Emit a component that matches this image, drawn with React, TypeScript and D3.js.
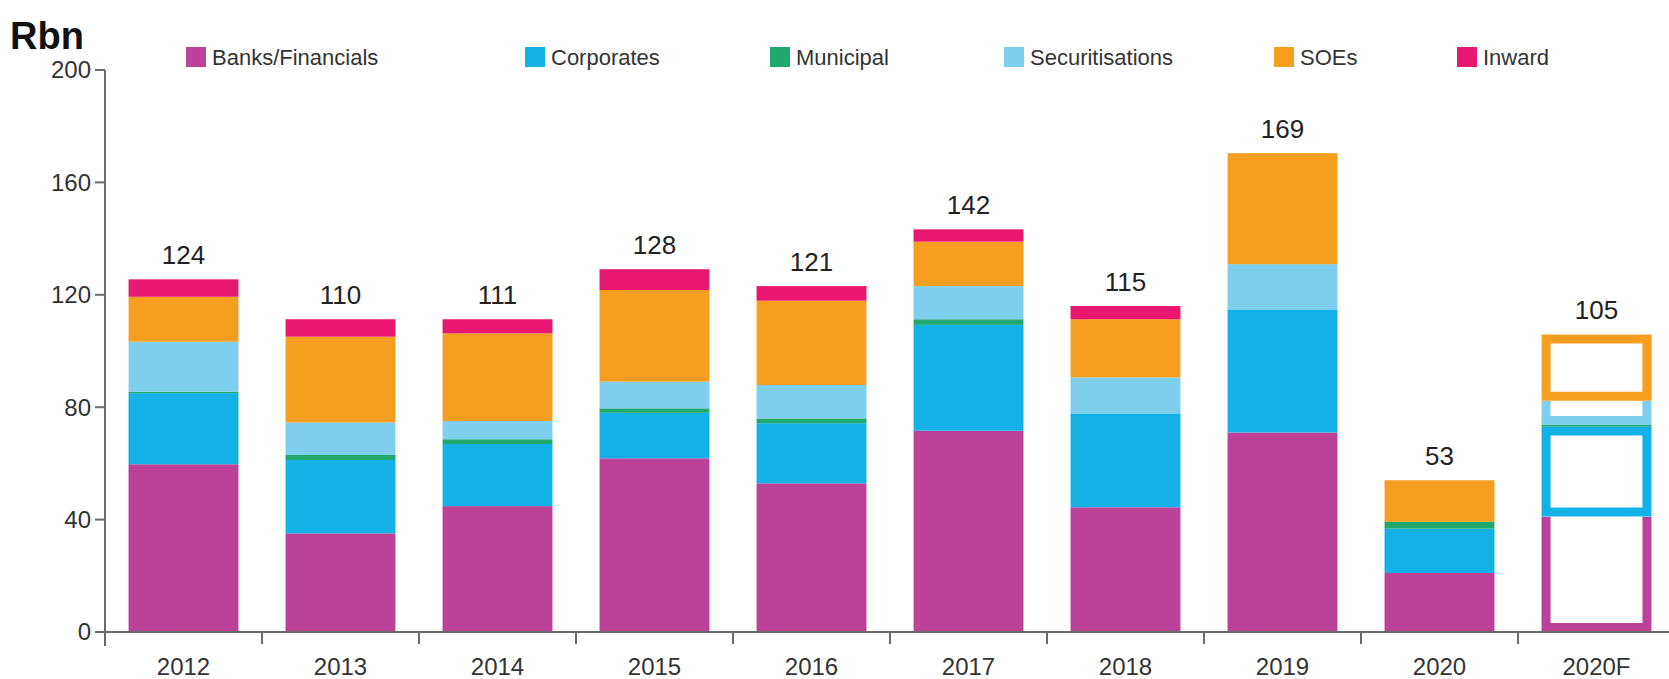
import React from "react";
import * as d3 from "d3";

// values (Rbn)
const years = ["2012", "2013", "2014", "2015", "2016", "2017", "2018", "2019", "2020", "2020F"];
const banks = [59.7, 35.1, 44.8, 61.8, 52.9, 71.6, 44.4, 71.0, 21.0, 41.1];
const corporates = [25.3, 26.1, 22.1, 16.2, 21.4, 37.7, 33.4, 43.8, 15.8, 32.0];
const municipal = [0.5, 1.8, 1.7, 1.6, 1.7, 2.0, 0, 0, 2.4, 0.6];
const securitisations = [17.8, 11.6, 6.5, 9.5, 11.9, 11.8, 12.8, 16.1, 0, 8.6];
const soes = [16.0, 30.5, 31.2, 32.6, 30.0, 15.8, 20.7, 39.5, 14.8, 23.6];
const inward = [6.2, 6.2, 5.0, 7.4, 5.2, 4.4, 4.7, 0, 0, 0];
const totalLabels = [124, 110, 111, 128, 121, 142, 115, 169, 53, 105];
const yTicks = [0, 40, 80, 120, 160, 200];
const forecastYear = "2020F";

const seriesNames = ["Banks/Financials", "Corporates", "Municipal", "Securitisations", "SOEs", "Inward"];
const seriesValues = [banks, corporates, municipal, securitisations, soes, inward];
const colors = ["#bc4198", "#14b1e6", "#1fa96f", "#7ecfee", "#f69e1f", "#e8176f"];

// legend layout (x of each swatch)
const legendX = [186, 525, 770, 1004, 1274, 1457];

const W = 1669;
const H = 679;
const font = "'Liberation Sans', Arial, sans-serif";
const axisColor = "#6b6b6b";

export default function App() {
  const rows = years.map((yr, i) => {
    const r: any = { year: yr };
    seriesNames.forEach((s, j) => (r[s] = seriesValues[j][i]));
    return r;
  });
  const stacked = d3.stack<any>().keys(seriesNames)(rows);

  const x = d3.scaleBand().domain(years).range([105, 1675]).paddingInner(0.3).paddingOuter(0.15);
  const y = d3.scaleLinear().domain([0, 200]).range([632, 70]);
  const gap = (x.step() - x.bandwidth()) / 2;
  const sw = 9; // outline width for forecast bar
  const openTop = new Set(["Banks/Financials", "Securitisations"]);

  const bars: any[] = [];
  stacked.forEach((layer, li) => {
    const name = seriesNames[li];
    layer.forEach((d) => {
      const yr = d.data.year;
      if (d[1] - d[0] <= 0) return;
      const x0 = x(yr)!;
      const w = x.bandwidth();
      const yTop = y(d[1]);
      const h = y(d[0]) - y(d[1]);
      if (yr !== forecastYear || h < sw * 2) {
        bars.push(
          <rect key={name + yr} x={x0} y={yTop} width={w} height={h} fill={colors[li]} />
        );
      } else {
        // forecast bar: outlined segments
        const l = x0 + sw / 2;
        const r = x0 + w - sw / 2;
        const t = yTop + sw / 2;
        const b = yTop + h - sw / 2;
        const path = openTop.has(name)
          ? `M${l},${yTop}V${b}H${r}V${yTop}`
          : `M${l},${t}V${b}H${r}V${t}Z`;
        bars.push(
          <g key={name + yr}>
            <rect x={x0} y={yTop} width={w} height={h} fill="#fff" />
            <path d={path} fill="none" stroke={colors[li]} strokeWidth={sw} strokeLinejoin="miter" />
          </g>
        );
      }
    });
  });

  return (
    <svg
      width={W}
      height={H}
      style={{ position: "absolute", left: 0, top: 0, background: "#fff" }}
      fontFamily={font}
    >
      <text x={10} y={49} fontSize={38} fontWeight="bold" fill="#111">Rbn</text>

      {seriesNames.map((s, i) => (
        <g key={s} transform={`translate(${legendX[i]},47)`}>
          <rect width={20} height={20} fill={colors[i]} />
          <text x={26} y={18} fontSize={22} fill="#333">{s}</text>
        </g>
      ))}

      {bars}

      {/* y axis */}
      <line x1={105} x2={105} y1={y(200)} y2={646} stroke={axisColor} strokeWidth={2} />
      {yTicks.map((t) => (
        <g key={t}>
          <line x1={95} x2={105} y1={y(t)} y2={y(t)} stroke={axisColor} strokeWidth={2} />
          <text x={91} y={y(t)} dy="0.35em" textAnchor="end" fontSize={24} fill="#333">{t}</text>
        </g>
      ))}

      {/* x axis */}
      <line x1={95} x2={W} y1={y(0)} y2={y(0)} stroke={axisColor} strokeWidth={2} />
      {years.map((yr) => (
        <line key={yr} x1={x(yr)! - gap} x2={x(yr)! - gap} y1={y(0)} y2={y(0) + 12} stroke={axisColor} strokeWidth={2} />
      ))}
      {years.map((yr) => (
        <text key={yr} x={x(yr)! + x.bandwidth() / 2} y={675} textAnchor="middle" fontSize={24} fill="#333">{yr}</text>
      ))}

      {/* totals */}
      {years.map((yr, i) => {
        const top = d3.sum(seriesValues, (v) => v[i]);
        return (
          <text key={yr} x={x(yr)! + x.bandwidth() / 2} y={y(top) - 15} textAnchor="middle" fontSize={26} fill="#222">
            {totalLabels[i]}
          </text>
        );
      })}
    </svg>
  );
}
